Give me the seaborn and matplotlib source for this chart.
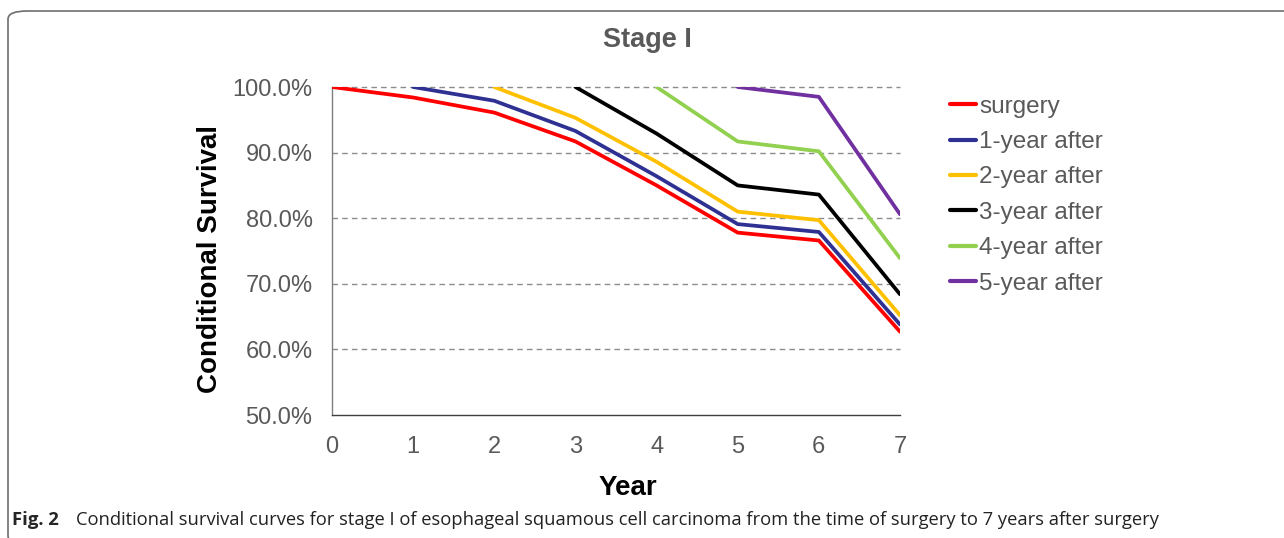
import numpy as np
import pandas as pd
import matplotlib
matplotlib.use("Agg")
import matplotlib.pyplot as plt
import seaborn as sns
from matplotlib.patches import FancyBboxPatch

# ---- data ----
years = [0, 1, 2, 3, 4, 5, 6, 7]
series_names = ["surgery", "1-year after", "2-year after", "3-year after",
                "4-year after", "5-year after"]
start_years = [0, 1, 2, 3, 4, 5]
surgery = [100.0, 98.4, 96.1, 91.7, 85.0, 77.8, 76.6, 62.7]
after1 = [100.0, 97.9, 93.3, 86.4, 79.1, 77.9, 63.8]
after2 = [100.0, 95.3, 88.6, 81.0, 79.7, 65.2]
after3 = [100.0, 92.9, 85.0, 83.6, 68.4]
after4 = [100.0, 91.7, 90.2, 73.9]
after5 = [100.0, 98.5, 80.6]
colors = ["#FF0000", "#2E3192", "#FFC000", "#000000", "#92D050", "#7030A0"]
yticks = [50, 60, 70, 80, 90, 100]

all_values = [surgery, after1, after2, after3, after4, after5]
rows = []
for name, start, vals in zip(series_names, start_years, all_values):
    for yr, v in zip(years[start:], vals):
        rows.append({"Year": yr, "Survival": v / 100.0, "Series": name})
df = pd.DataFrame(rows)

sns.set_theme(style="white")
plt.rcParams["font.family"] = ["Liberation Sans", "DejaVu Sans"]

W, H = 1284, 538
fig = plt.figure(figsize=(W / 100, H / 100), dpi=100)
ax = fig.add_axes([332 / W, 1 - 415 / H, (900 - 332) / W, (415 - 87) / H])

sns.lineplot(data=df, x="Year", y="Survival", hue="Series",
             hue_order=series_names, palette=colors, linewidth=2.7,
             ax=ax, legend=True, zorder=3)

ax.set_xlim(0, 7)
ax.set_ylim(0.5, 1.0)
ax.set_xticks(years)
ax.set_xticklabels([str(y) for y in years])
ax.set_yticks([t / 100 for t in yticks])
ax.set_yticklabels([f"{t:.1f}%" for t in yticks])
ax.tick_params(axis="both", length=0, labelsize=17, colors="#595959")
ax.tick_params(axis="y", pad=14)
ax.tick_params(axis="x", pad=15)

for t in yticks[1:]:
    ax.axhline(t / 100, color="#8C8C8C", linestyle=(0, (4, 3)), linewidth=1.0,
               zorder=1, clip_on=False)

for s in ["top", "right"]:
    ax.spines[s].set_visible(False)
ax.spines["left"].set_color("#7F7F7F")
ax.spines["left"].set_linewidth(1.0)
ax.spines["bottom"].set_color("#404040")
ax.spines["bottom"].set_linewidth(1.0)

ax.set_xlabel("")
ax.set_ylabel("")
fig.text(628 / W, 1 - 488 / H, "Year", fontsize=20, fontweight="bold",
         color="black", ha="center", va="center")
fig.text(210 / W, 1 - 259 / H, "Conditional Survival", fontsize=20,
         fontweight="bold", color="black", ha="center", va="center",
         rotation=90)
fig.text(647 / W, 1 - 40 / H, "Stage I", fontsize=19.5, fontweight="bold",
         color="#595959", ha="center", va="center")

leg = ax.legend(loc="upper left", bbox_to_anchor=(940 / W, 1 - 86 / H),
                bbox_transform=fig.transFigure, frameon=False, fontsize=17.5,
                handlelength=1.1, handletextpad=0.12, labelspacing=0.55,
                borderaxespad=0)
for txt in leg.get_texts():
    txt.set_color("#595959")
for line in leg.get_lines():
    line.set_linewidth(3)

# rounded frame around the figure panel (top and left edges visible)
frame = FancyBboxPatch((8 / W, -6 / H), (W + 40) / W, (H - 11 + 6) / H,
                       boxstyle="round,pad=0,rounding_size=0.015",
                       transform=fig.transFigure, fill=False,
                       edgecolor="#6E6E6E", linewidth=1.2, clip_on=False)
fig.patches.append(frame)

# caption
fig.text(12 / W, 1 - 520 / H, "Fig. 2", fontsize=13.3, fontweight="bold",
         family=["Open Sans", "DejaVu Sans"], va="center", ha="left")
fig.text(76 / W, 1 - 520 / H,
         "Conditional survival curves for stage I of esophageal squamous cell "
         "carcinoma from the time of surgery to 7 years after surgery",
         fontsize=13.2, family=["Open Sans", "DejaVu Sans"], va="center",
         ha="left", color="#222222")

fig.savefig("out.png", dpi=100)
